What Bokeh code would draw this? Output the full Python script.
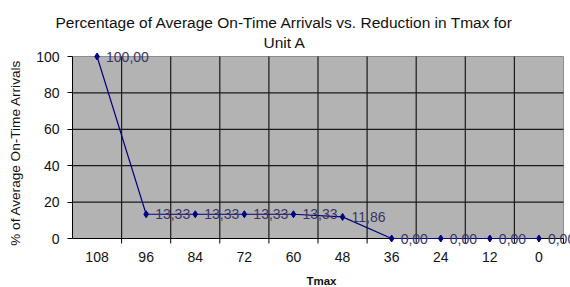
from bokeh.plotting import figure
from bokeh.models import (ColumnDataSource, Range1d, FixedTicker, LabelSet, Title)
from bokeh.core.properties import value
from bokeh.embed import file_html
from bokeh.resources import INLINE

# ---- data ----
tmax_labels = ["108", "96", "84", "72", "60", "48", "36", "24", "12", "0"]
on_time_pct = [100.00, 13.33, 13.33, 13.33, 13.33, 11.86, 0.00, 0.00, 0.00, 0.00]
y_ticks = [0, 20, 40, 60, 80, 100]
title_lines = ["Percentage of Average On-Time Arrivals vs. Reduction in Tmax for", "Unit A"]

FONT = "Liberation Sans"
n = len(tmax_labels)
positions = list(range(n))
point_text = [f"{v:.2f}".replace(".", ",") for v in on_time_pct]
src = ColumnDataSource(dict(x=positions, y=on_time_pct, lab=point_text))

x_lo, x_hi = -0.5, n - 0.5
y_lo, y_hi = y_ticks[0], y_ticks[-1]
boundaries = [i + 0.5 for i in positions[:-1]]

# geometry: value box is 491 x 182 px (x 72..563, y 56..238); frame is larger so that
# the point labels that overhang the box are not clipped
PX_PER_X = 49.1
PX_PER_Y = 1.82
FRAME_TOP, FRAME_BOTTOM, ZERO_Y = 50, 254, 238
p = figure(frame_width=498, frame_height=FRAME_BOTTOM - FRAME_TOP,
           output_backend="svg", toolbar_location=None,
           x_range=Range1d(x_lo, x_lo + 498 / PX_PER_X),
           y_range=Range1d(-(FRAME_BOTTOM - ZERO_Y) / PX_PER_Y, (ZERO_Y - FRAME_TOP) / PX_PER_Y),
           min_border_left=72, min_border_right=0, min_border_top=FRAME_TOP,
           min_border_bottom=0,
           background_fill_color="white", border_fill_color="white",
           outline_line_color=None)
p.grid.visible = False

# two title lines (first added is nearest the frame)
p.add_layout(Title(text=title_lines[1], align="left", offset=191, standoff=0,
                   text_font=FONT, text_font_size="15.5px", text_font_style="normal",
                   text_color="#111111"), "above")
p.add_layout(Title(text=title_lines[0], align="left", offset=-17, standoff=2,
                   text_font=FONT, text_font_size="15.5px", text_font_style="normal",
                   text_color="#111111"), "above")

# grey plot area
p.quad(left=[x_lo], right=[x_hi], bottom=[y_lo], top=[y_hi],
       fill_color="#b3b3b3", line_color="#8c8c8c", line_width=1)

# grid lines
p.segment(x0=boundaries, y0=[y_lo] * len(boundaries), x1=boundaries, y1=[y_hi] * len(boundaries),
          line_color="#1a1a1a", line_width=1.2)
inner_y = y_ticks[1:-1]
p.segment(x0=[x_lo] * len(inner_y), y0=inner_y, x1=[x_hi] * len(inner_y), y1=inner_y,
          line_color="#1a1a1a", line_width=1.2)

# category axis line and tick marks (at category boundaries)
p.segment(x0=[x_lo], y0=[y_lo], x1=[x_hi], y1=[y_lo], line_color="black", line_width=1)
tick_len = 5 / PX_PER_Y
p.segment(x0=boundaries + [x_hi], y0=[y_lo] * (len(boundaries) + 1),
          x1=boundaries + [x_hi], y1=[y_lo - tick_len] * (len(boundaries) + 1),
          line_color="black", line_width=1)

# x axis: category labels only
ax = p.xaxis[0]
ax.ticker = FixedTicker(ticks=positions)
ax.major_label_overrides = {i: s for i, s in enumerate(tmax_labels)}
ax.bounds = (x_lo, x_hi)
ax.axis_line_color = None
ax.major_tick_line_color = None
ax.minor_tick_line_color = None
ax.major_label_standoff = -9
ax.major_label_text_font = FONT
ax.major_label_text_font_size = "14px"
ax.major_label_text_color = "#111111"
ax.axis_label = "Tmax"
ax.axis_label_standoff = 10
ax.axis_label_text_font = FONT
ax.axis_label_text_font_size = "11.5px"
ax.axis_label_text_font_style = "bold"
ax.axis_label_text_color = "#111111"

# y axis
ay = p.yaxis[0]
ay.ticker = FixedTicker(ticks=y_ticks)
ay.bounds = (y_lo, y_hi)
ay.major_tick_out = 5
ay.major_tick_in = 0
ay.minor_tick_line_color = None
ay.axis_line_color = "black"
ay.major_tick_line_color = "black"
ay.major_label_standoff = 8
ay.major_label_text_font = FONT
ay.major_label_text_font_size = "14px"
ay.major_label_text_color = "#111111"
ay.axis_label = "% of Average On-Time Arrivals"
ay.axis_label_standoff = 10
ay.axis_label_text_font = FONT
ay.axis_label_text_font_size = "13.6px"
ay.axis_label_text_font_style = "normal"
ay.axis_label_text_color = "#111111"

# series
p.line("x", "y", source=src, line_color="#000080", line_width=1.2)
p.scatter("x", "y", source=src, marker="diamond", size=7,
          fill_color="#000080", line_color="#000080")

labels = LabelSet(x="x", y="y", text="lab", source=src, x_offset=9,
                  text_baseline="middle", text_align="left",
                  text_font=value(FONT), text_font_size=value("14px"),
                  text_color="#3a3466")
p.add_layout(labels)

open("out.html", "w").write(file_html(p, INLINE))
